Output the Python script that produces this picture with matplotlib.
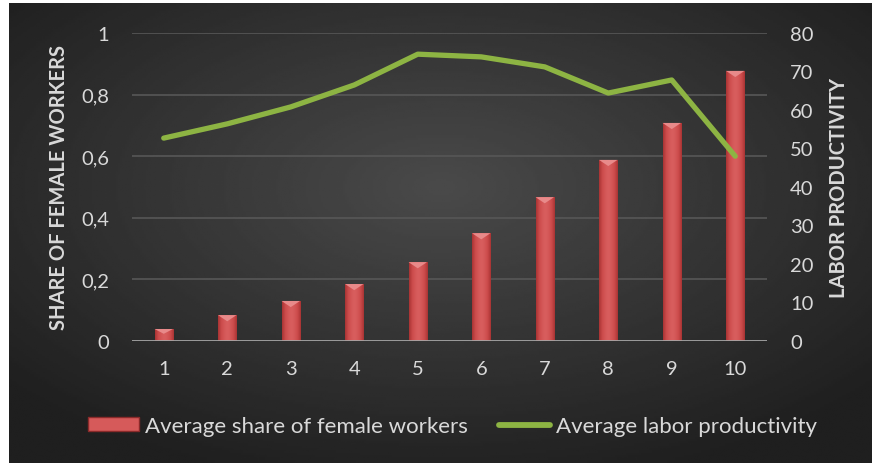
import numpy as np
import matplotlib.pyplot as plt
from matplotlib.colors import LinearSegmentedColormap
from matplotlib.lines import Line2D
from matplotlib.patches import Rectangle

plt.rcParams['font.family'] = ['Lato', 'DejaVu Sans']

# Deciles with share of female workers (bars) and labor productivity (line)
deciles = [1, 2, 3, 4, 5, 6, 7, 8, 9, 10]
female_share = [0.039, 0.084, 0.130, 0.185, 0.256, 0.350, 0.467, 0.588, 0.708, 0.877]
productivity = [52.7, 56.4, 60.8, 66.5, 74.5, 73.8, 71.2, 64.4, 67.8, 48.0]

left_ticks = [0, 0.2, 0.4, 0.6, 0.8, 1]
left_labels = ['0', '0,2', '0,4', '0,6', '0,8', '1']
right_ticks = [0, 10, 20, 30, 40, 50, 60, 70, 80]

txt = '#d9d9d9'
green = '#8db443'
bar_red = '#c94848'
bevel = LinearSegmentedColormap.from_list('bevel', ['#d85e5e', '#cc4c4c', '#a93434'])

fig = plt.figure(figsize=(8.72, 4.64), dpi=100)
fig.patch.set_facecolor('white')

# dark radial background panel
bg = fig.add_axes([9 / 872, 0, 863 / 872, 460 / 464])
yy, xx = np.mgrid[-1:1:200j, -1:1:400j]
r = np.sqrt((xx * 0.9) ** 2 + ((yy + 0.2) * 0.9) ** 2)
bg.imshow(0.29 - 0.14 * np.clip(r, 0, 1.2), cmap='gray', vmin=0, vmax=1,
          aspect='auto', extent=[0, 1, 0, 1])
bg.set_axis_off()

ax = fig.add_axes([132 / 872, 1 - 342 / 464, 635 / 872, 308 / 464])
ax.patch.set_alpha(0)
ax.set_xlim(0.5, 10.5)
ax.set_ylim(0, 1)

for t in left_ticks[1:]:
    ax.axhline(t, color='#575757', lw=1.2, zorder=0)

bars = ax.bar(deciles, female_share, width=0.29, color=bar_red, edgecolor='#8a2a2a',
              lw=0.6, zorder=2)
# bevel shading across each bar
grad = np.abs(np.linspace(-1, 1, 50))[None, :] ** 1.5
for b in bars:
    x0, w, h = b.get_x(), b.get_width(), b.get_height()
    im = ax.imshow(grad, cmap=bevel, vmin=0, vmax=1, aspect='auto',
                   extent=[x0, x0 + w, 0, h], zorder=3)
    im.set_clip_path(b)
    cap = min(0.02, h * 0.4)
    ax.fill([x0, x0 + w, x0 + w / 2], [h, h, h - cap], color='#e88a8a', zorder=4, lw=0)

ax.axhline(0, color='#a6a6a6', lw=2, zorder=5)

ax.set_yticks(left_ticks)
ax.set_yticklabels(left_labels)
ax.set_xticks(deciles)
ax.tick_params(colors=txt, labelsize=14.5, length=0, pad=14)
ax.tick_params(axis='y', pad=16.5)
for s in ax.spines.values():
    s.set_visible(False)
ax.set_ylabel('SHARE OF FEMALE WORKERS', color=txt, fontsize=14.5, fontweight='bold',
              labelpad=9)

ax2 = ax.twinx()
ax2.set_ylim(0, 80)
ax2.plot(deciles, productivity, color=green, lw=3.8, solid_capstyle='round',
         solid_joinstyle='round', zorder=6)
ax2.set_yticks(right_ticks)
ax2.tick_params(colors=txt, labelsize=14.5, length=0, pad=16.5)
for s in ax2.spines.values():
    s.set_visible(False)
ax2.set_ylabel('LABOR PRODUCTIVITY', color=txt, fontsize=14.5, fontweight='bold',
               labelpad=11)

# legend
handles = [Rectangle((0, 0), 1, 1, facecolor='#d65a5a', edgecolor='#8a2a2a'),
           Line2D([0], [0], color=green, lw=4.2, solid_capstyle='round')]
fig.legend(handles, ['Average share of female workers', 'Average labor productivity'],
           loc='center left', bbox_to_anchor=(88 / 872, 1 - 427 / 464), ncol=2,
           frameon=False, fontsize=16, labelcolor=txt, handlelength=2.3,
           handleheight=0.6, handletextpad=0.27, columnspacing=1.4,
           borderpad=0, borderaxespad=0)

fig.savefig('out.png', dpi=100, facecolor=fig.get_facecolor())
